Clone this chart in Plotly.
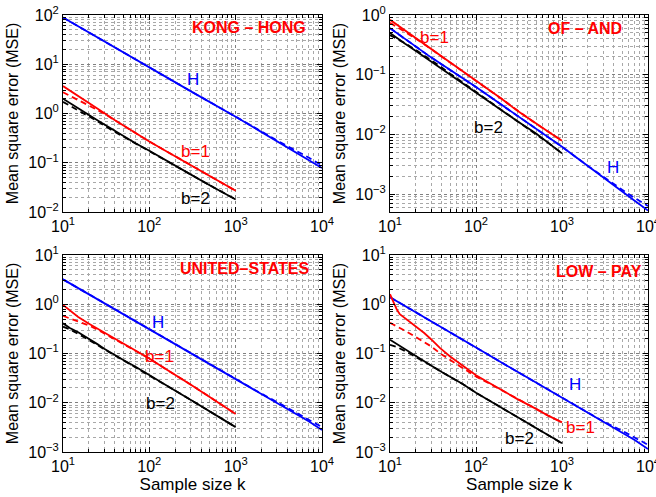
import plotly.graph_objects as go
import math

# ---------------- data ----------------
K_B = [10, 12, 15, 20, 25, 30, 40, 50, 70, 100, 150, 200, 300, 500, 700, 1000]
K_H = [10, 30, 100, 300, 1000, 2000, 3000, 5000, 7000, 10000]

# KONG - HONG
kh_b1 = [3.6, 2.9, 2.25, 1.6, 1.25, 1.02, 0.73, 0.57, 0.385, 0.27, 0.18, 0.135, 0.091, 0.055, 0.039, 0.027]
kh_b1_d = [2.7, 2.3, 1.9, 1.45, 1.18, 0.99, 0.72, 0.57, 0.385, 0.27, 0.18, 0.135, 0.091, 0.055, 0.039, 0.027]
kh_b2 = [2.0, 1.62, 1.28, 0.93, 0.73, 0.6, 0.43, 0.34, 0.245, 0.175, 0.118, 0.088, 0.058, 0.035, 0.025, 0.018]
kh_b2_d = [1.72, 1.45, 1.18, 0.87, 0.7, 0.57, 0.42, 0.34, 0.245, 0.175, 0.118, 0.088, 0.058, 0.035, 0.025, 0.018]
kh_h = [89, 29, 8.6, 2.85, 0.86, 0.418, 0.274, 0.163, 0.115, 0.078]
kh_h_d = [89, 29, 8.6, 2.85, 0.86, 0.418, 0.285, 0.175, 0.128, 0.088]

# OF - AND
oa_b1 = [0.83, 0.69, 0.55, 0.41, 0.33, 0.275, 0.205, 0.163, 0.116, 0.08, 0.053, 0.039, 0.025, 0.015, 0.011, 0.0078]
oa_b1_d = [0.74, 0.64, 0.52, 0.4, 0.325, 0.27, 0.2, 0.16, 0.114, 0.079, 0.052, 0.039, 0.0255, 0.015, 0.011, 0.0078]
oa_b2 = [0.5, 0.41, 0.33, 0.25, 0.2, 0.165, 0.125, 0.098, 0.07, 0.049, 0.033, 0.025, 0.0168, 0.0103, 0.0071, 0.0048]
oa_b2_d = [0.46, 0.4, 0.335, 0.26, 0.21, 0.175, 0.132, 0.104, 0.074, 0.051, 0.034, 0.0255, 0.017, 0.0103, 0.0071, 0.0048]
oa_h = [0.6, 0.195, 0.062, 0.0205, 0.0062, 0.00296, 0.0019, 0.0011, 0.00077, 0.00053]
oa_h_d = [0.6, 0.195, 0.062, 0.0205, 0.0062, 0.00296, 0.00195, 0.00118, 0.00086, 0.00063]

# UNITED-STATES
us_b1 = [0.97, 0.75, 0.55, 0.4, 0.32, 0.265, 0.2, 0.158, 0.113, 0.079, 0.05, 0.037, 0.0235, 0.0131, 0.0089, 0.0059]
us_b1_d = [0.58, 0.52, 0.45, 0.37, 0.305, 0.255, 0.195, 0.156, 0.113, 0.079, 0.05, 0.037, 0.0235, 0.0131, 0.0089, 0.0059]
us_b2 = [0.41, 0.33, 0.27, 0.2, 0.155, 0.125, 0.092, 0.074, 0.053, 0.036, 0.024, 0.0176, 0.0115, 0.0067, 0.0047, 0.0032]
us_b2_d = [0.35, 0.31, 0.25, 0.19, 0.15, 0.122, 0.091, 0.074, 0.053, 0.036, 0.024, 0.0176, 0.0115, 0.0067, 0.0047, 0.0032]
us_h = [3.2, 1.05, 0.31, 0.104, 0.030, 0.0152, 0.0101, 0.006, 0.0042, 0.0028]
us_h_d = [3.2, 1.05, 0.31, 0.104, 0.030, 0.0152, 0.0104, 0.0064, 0.0046, 0.0032]

# LOW - PAY
K_LP_B1 = [10, 11, 12, 13, 15, 17, 20, 25, 30, 38, 50, 70, 100, 150, 200, 300, 500, 700, 1000]
lp_b1 = [1.6, 1.05, 0.78, 0.63, 0.52, 0.45, 0.36, 0.26, 0.195, 0.13, 0.087, 0.056, 0.036, 0.024, 0.018, 0.012, 0.0075, 0.0054, 0.004]
lp_b1_d = [0.42, 0.36, 0.29, 0.215, 0.17, 0.14, 0.095, 0.074, 0.051, 0.034, 0.0235, 0.018, 0.012, 0.0075, 0.0054, 0.004]
lp_b2 = [0.19, 0.155, 0.12, 0.088, 0.07, 0.057, 0.042, 0.034, 0.024, 0.016, 0.0105, 0.0078, 0.0052, 0.003, 0.0021, 0.0015]
lp_b2_d = [0.15, 0.135, 0.112, 0.085, 0.069, 0.057, 0.042, 0.034, 0.024, 0.016, 0.0105, 0.0078, 0.0052, 0.003, 0.0021, 0.0015]
lp_h = [1.39, 0.46, 0.132, 0.043, 0.0128, 0.0064, 0.0042, 0.0025, 0.00175, 0.00115]
lp_h_d = [1.39, 0.46, 0.132, 0.043, 0.0128, 0.0064, 0.0042, 0.0027, 0.0020, 0.0014]

PANEL_TITLES = ["KONG \u2013 HONG", "OF \u2013 AND", "UNITED\u2013STATES", "LOW \u2013 PAY"]
X_TICKS = [10, 100, 1000, 10000]
Y_TICKS = [[0.01, 0.1, 1, 10, 100], [0.001, 0.01, 0.1, 1], [0.001, 0.01, 0.1, 1, 10], [0.001, 0.01, 0.1, 1, 10]]
Y_RANGES = [[-2, 2], [math.log10(5e-4), 0], [-3, 1], [-3, 1]]

# label positions (k, mse) for H, b=1, b=2
LABELS = [
    [(320, 5.0), (340, 0.17), (340, 0.019)],
    [(3900, 0.0028), (33, 0.42), (139, 0.013)],
    [(126, 0.42), (132, 0.086), (133, 0.0098)],
    [(1400, 0.023), (1650, 0.0032), (318, 0.0019)],
]
# panel-title anchor (right edge, vertical centre) inside each plot box, as fractions
TITLE_POS = [(0.946, 0.939), (0.907, 0.929), (0.961, 0.934), (0.984, 0.914)]

# ---------------- figure ----------------
W, H = 656, 497
RED, BLUE, BLACK = "#ff0000", "#0000ff", "#000000"
FONT = "Liberation Sans, Arial, Helvetica, sans-serif"

def sup(v):
    e = int(round(math.log10(v)))
    s = str(e).replace("-", "\u2212")
    return f"10<sup>{s}</sup>"

# plot boxes in pixels (left, right, top, bottom)
BOXES = [(63, 322, 15, 212), (390, 648, 15, 212), (63, 322, 255, 452), (390, 648, 255, 452)]

panels = [
    (K_B, kh_b1, K_B, kh_b1_d, kh_b2, kh_b2_d, kh_h, kh_h_d),
    (K_B, oa_b1, K_B, oa_b1_d, oa_b2, oa_b2_d, oa_h, oa_h_d),
    (K_B, us_b1, K_B, us_b1_d, us_b2, us_b2_d, us_h, us_h_d),
    (K_LP_B1, lp_b1, K_B, lp_b1_d, lp_b2, lp_b2_d, lp_h, lp_h_d),
]

fig = go.Figure()
layout = dict(
    width=W, height=H, margin=dict(l=0, r=0, t=0, b=0),
    paper_bgcolor="white", plot_bgcolor="white", showlegend=False,
    font=dict(family=FONT, size=15, color="black"),
    annotations=[],
)

LW = 1.8
DASH = "6px,4px"
for i, (kb1, b1, kb1d, b1d, b2, b2d, hh, hhd) in enumerate(panels):
    n = "" if i == 0 else str(i + 1)
    xa, ya = "x" + n, "y" + n
    series = [
        (K_H, hhd, BLUE, DASH), (K_H, hh, BLUE, "solid"),
        (kb1d, b1d, RED, DASH), (kb1, b1, RED, "solid"),
        (K_B, b2d, BLACK, DASH), (K_B, b2, BLACK, "solid"),
    ]
    for kx, vy, col, dsh in series:
        fig.add_trace(go.Scatter(x=kx, y=vy, mode="lines", xaxis=xa, yaxis=ya,
                                 line=dict(color=col, width=LW, dash=dsh), hoverinfo="skip"))
    l, r, t, b = BOXES[i]
    dom_x = [l / W, r / W]
    dom_y = [1 - b / H, 1 - t / H]
    common = dict(type="log", showline=True, linecolor="black", linewidth=1, mirror="ticks",
                  ticks="inside", ticklen=5, tickcolor="black", zeroline=False, automargin=False,
                  showgrid=True, gridcolor="#808080", griddash="dot", gridwidth=1,
                  minor=dict(dtick="D1", ticks="inside", ticklen=3, tickcolor="black",
                             showgrid=True, gridcolor="#a8a8a8", griddash="dot", gridwidth=1),
                  ticklabeloverflow="allow",
                  tickfont=dict(size=16, family=FONT))
    xax = dict(common, domain=dom_x, anchor=ya, range=[1, 4],
               tickvals=X_TICKS, ticktext=[sup(v) for v in X_TICKS])
    if i >= 2:
        xax["title"] = dict(text="Sample size k", font=dict(size=17, family=FONT), standoff=2)
    yax = dict(common, domain=dom_y, anchor=xa, range=Y_RANGES[i],
               tickvals=Y_TICKS[i], ticktext=[sup(v) for v in Y_TICKS[i]],
               title=dict(text="Mean square error (MSE)", font=dict(size=16, family=FONT), standoff=5))
    layout["xaxis" + n] = xax
    layout["yaxis" + n] = yax

    # panel title
    tx, ty = TITLE_POS[i]
    layout["annotations"].append(dict(
        text=f"<b>{PANEL_TITLES[i]}</b>", xref=xa + " domain", yref=ya + " domain",
        x=tx, y=ty, xanchor="right", yanchor="middle", showarrow=False,
        font=dict(color=RED, size=16, family=FONT)))
    for (k, v), txt, col in zip(LABELS[i], ["H", "b=1", "b=2"], [BLUE, RED, BLACK]):
        layout["annotations"].append(dict(
            text=txt, xref=xa, yref=ya, x=math.log10(k), y=math.log10(v),
            showarrow=False, font=dict(color=col, size=17, family=FONT),
            xanchor="center", yanchor="middle"))

fig.update_layout(**layout)
fig.write_html("out.html")
